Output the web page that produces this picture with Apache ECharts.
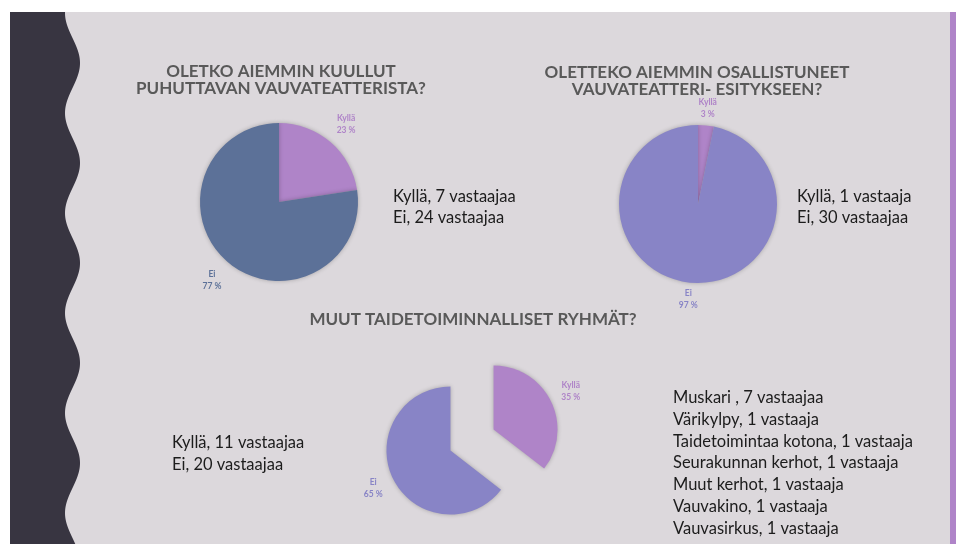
<!DOCTYPE html>
<html>
<head>
<meta charset="utf-8">
<script src="https://cdn.jsdelivr.net/npm/echarts@6/dist/echarts.min.js"></script>
<style>
  html, body { margin: 0; padding: 0; background: #fff; }
  #container { width: 960px; height: 544px; }
</style>
</head>
<body>
<div id="container"></div>
<script>
// answers per question
var names = ['Kyllä', 'Ei'];
var heardValues = [7, 24];
var attendedValues = [1, 30];
var otherValues = [11, 20];

var titles = [
    'OLETKO AIEMMIN KUULLUT\nPUHUTTAVAN VAUVATEATTERISTA?',
    'OLETTEKO AIEMMIN OSALLISTUNEET\nVAUVATEATTERI- ESITYKSEEN?',
    'MUUT TAIDETOIMINNALLISET RYHMÄT?'
];
var heardText = ['Kyllä, 7 vastaajaa', 'Ei, 24 vastaajaa'];
var attendedText = ['Kyllä, 1 vastaaja', 'Ei, 30 vastaajaa'];
var otherText = ['Kyllä, 11 vastaajaa', 'Ei, 20 vastaajaa'];
var groupText = [
    'Muskari , 7 vastaajaa',
    'Värikylpy, 1 vastaaja',
    'Taidetoimintaa kotona, 1 vastaaja',
    'Seurakunnan kerhot, 1 vastaaja',
    'Muut kerhot, 1 vastaaja',
    'Vauvakino, 1 vastaaja',
    'Vauvasirkus, 1 vastaaja'
];

var PURPLE = '#af84c8';
var SLATE = '#5c7198';
var LAVENDER = '#8884c6';
var FONT = 'Lato, "Open Sans", sans-serif';

function pieData(values, colors, selected) {
    return values.map(function (v, i) {
        var d = { name: names[i], value: v, itemStyle: { color: colors[i] } };
        if (selected) {
            d.selected = true;
            d.select = { itemStyle: { color: colors[i], borderWidth: 0 } };
        }
        return d;
    });
}

// transparent ring that only carries the percentage labels
function labelRing(values, colors, center, radius) {
    return {
        type: 'pie',
        center: center,
        radius: radius,
        silent: true,
        percentPrecision: 0,
        z: 5,
        data: values.map(function (v, i) {
            return {
                name: names[i], value: v,
                itemStyle: { color: 'transparent' },
                label: { color: colors[i] }
            };
        }),
        label: {
            position: 'inside',
            formatter: '{b}\n{d} %',
            fontFamily: FONT,
            fontWeight: 'bold',
            fontSize: 8.5,
            lineHeight: 12,
            align: 'center'
        },
        labelLine: { show: false }
    };
}

var shadow = { shadowBlur: 4, shadowColor: 'rgba(0,0,0,0.25)' };

// wavy dark band on the left
var wave = [[10, 12]];
for (var y = 12; y <= 544; y += 2) {
    wave.push([72.5 + 7.5 * Math.sin(2 * Math.PI * (y - 38) / 100), y]);
}
wave.push([10, 544]);

function textBlock(lines, x, y, lineH) {
    return lines.map(function (t, i) {
        return {
            type: 'text', x: x, y: y + i * lineH,
            style: { text: t, fill: '#1c1c1c', font: '16.5px ' + FONT, verticalAlign: 'middle' }
        };
    });
}

var titleFont = 'bold 17px ' + FONT;
var elements = [
    { type: 'rect', shape: { x: 0, y: 0, width: 960, height: 12 }, style: { fill: '#fff' } },
    { type: 'rect', shape: { x: 0, y: 0, width: 10, height: 544 }, style: { fill: '#fff' } },
    { type: 'rect', shape: { x: 956, y: 0, width: 4, height: 544 }, style: { fill: '#fff' } },
    { type: 'rect', shape: { x: 950, y: 12, width: 6, height: 532 }, style: { fill: PURPLE } },
    { type: 'polygon', shape: { points: wave }, style: { fill: '#383541' } },
    {
        type: 'text', x: 281, y: 80,
        style: { text: titles[0], fill: '#595959', font: titleFont, align: 'center', verticalAlign: 'middle', lineHeight: 17 }
    },
    {
        type: 'text', x: 697, y: 81,
        style: { text: titles[1], fill: '#595959', font: titleFont, align: 'center', verticalAlign: 'middle', lineHeight: 17 }
    },
    {
        type: 'text', x: 473, y: 320,
        style: { text: titles[2], fill: '#595959', font: titleFont, align: 'center', verticalAlign: 'middle' }
    }
].concat(
    textBlock(heardText, 393, 197, 21),
    textBlock(attendedText, 797, 197, 21),
    textBlock(otherText, 172, 443, 22),
    textBlock(groupText, 673, 398, 21.7)
);

var myChart = echarts.init(document.getElementById('container'));
var option = {
    backgroundColor: '#dcd8dc',
    animation: false,
    graphic: { elements: elements },
    series: [
        {
            type: 'pie',
            center: [279, 202],
            radius: 79,
            silent: true,
            label: { show: false },
            labelLine: { show: false },
            itemStyle: shadow,
            data: pieData(heardValues, [PURPLE, SLATE])
        },
        labelRing(heardValues, [PURPLE, SLATE], [279, 202], [82, 118]),
        {
            type: 'pie',
            center: [698, 204],
            radius: 79,
            silent: true,
            label: { show: false },
            labelLine: { show: false },
            itemStyle: shadow,
            data: pieData(attendedValues, [PURPLE, LAVENDER])
        },
        labelRing(attendedValues, [PURPLE, LAVENDER], [698, 204], [82, 104]),
        {
            type: 'pie',
            center: [472, 440],
            radius: 64,
            selectedMode: 'multiple',
            selectedOffset: 24,
            label: { show: false },
            labelLine: { show: false },
            itemStyle: shadow,
            data: pieData(otherValues, [PURPLE, LAVENDER], true)
        },
        labelRing(otherValues, [PURPLE, LAVENDER], [472, 440], [92, 122])
    ]
};
myChart.setOption(option);
</script>
</body>
</html>
